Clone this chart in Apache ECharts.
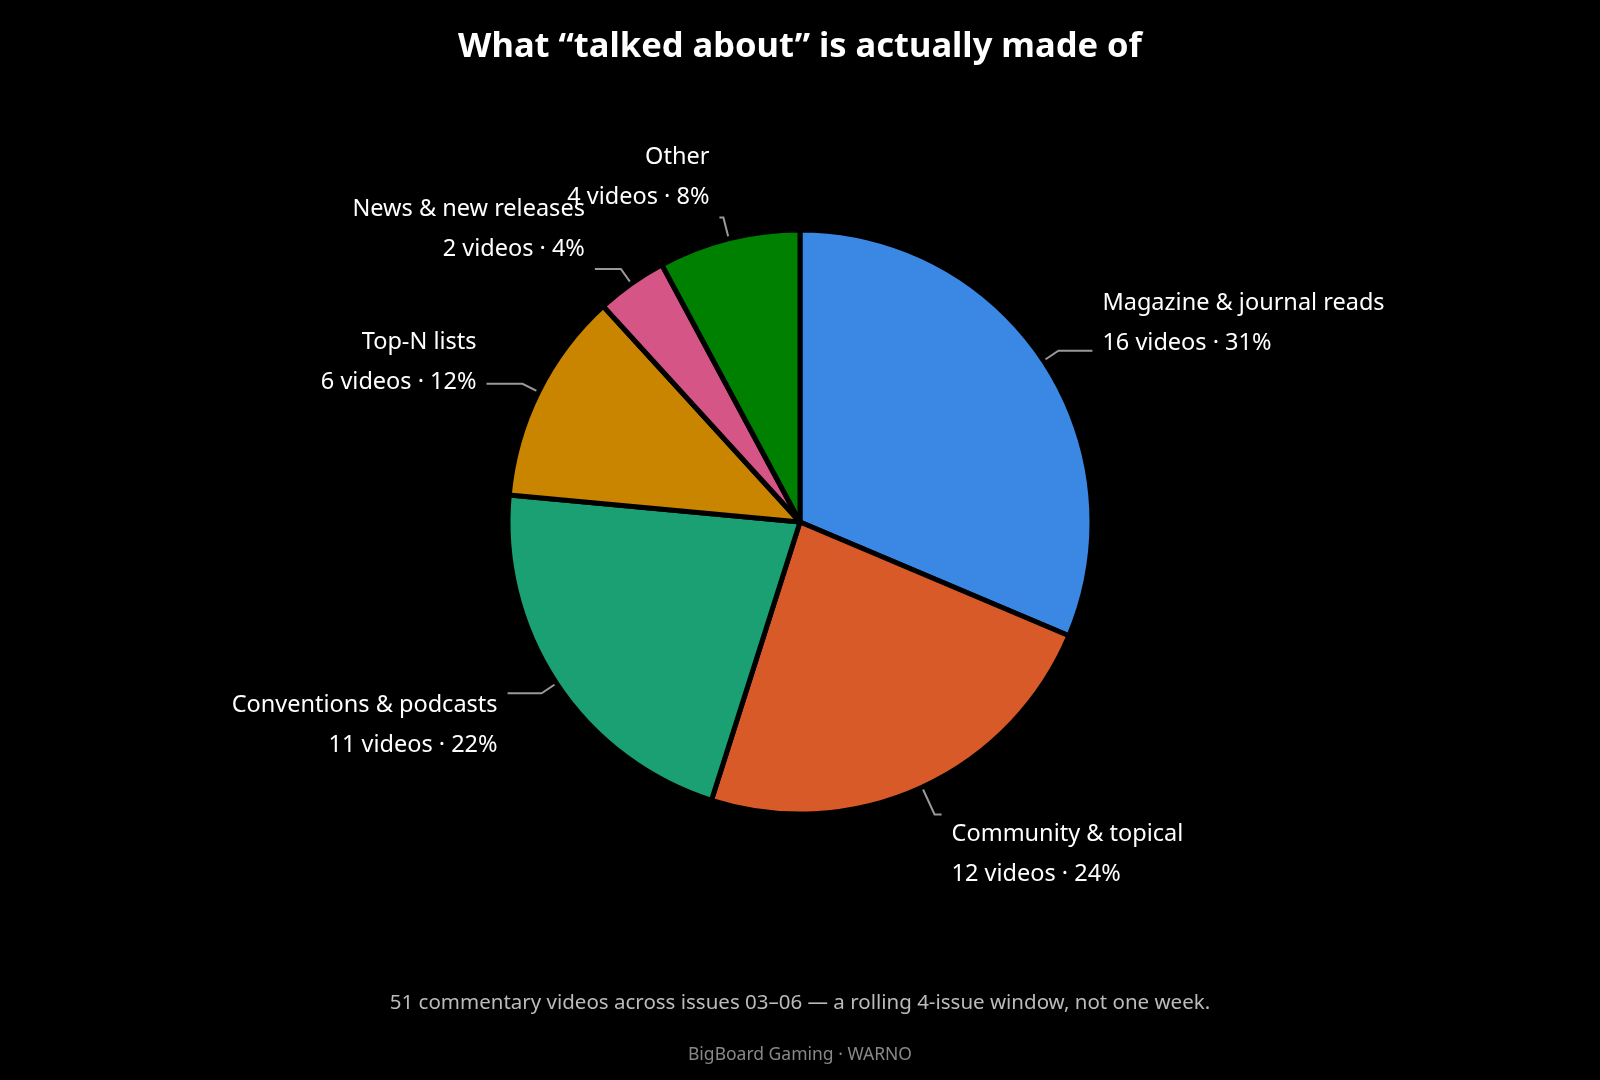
<!DOCTYPE html>
<html>
<head>
<meta charset="utf-8">
<title>What “talked about” is actually made of</title>
<script src="https://cdn.jsdelivr.net/npm/echarts@6/dist/echarts.min.js"></script>
<style>
    html, body {margin: 0; padding: 0; background: #000;}
    #chart {width: 1600px; height: 1080px;}
</style>
</head>
<body>
<div id="chart"></div>
<script>
var categories = [
    'Magazine & journal reads',
    'Community & topical',
    'Conventions & podcasts',
    'Top-N lists',
    'News & new releases',
    'Other'
];
var videoCounts = [16, 12, 11, 6, 2, 4];
var sliceColors = ['#3a88e4', '#d95a29', '#1aa073', '#c98500', '#d55586', '#008000'];

var total = videoCounts.reduce(function(a, b) { return a + b; }, 0);
var fontFamily = '"Noto Sans", "Open Sans", sans-serif';

// a few leader lines / labels sit a little differently in the original
var lineTweaks = {
    'Magazine & journal reads': {length: 18, length2: 34},
    'Community & topical': {length: 30, length2: 7},
    'Conventions & podcasts': {length: 18, length2: 34},
    'Top-N lists': {length: 18, length2: 36},
    'Other': {length: 22, length2: 4}
};
var labelNudge = {
    'Magazine & journal reads': 13,
    'Conventions & podcasts': -8,
    'Top-N lists': 18
};

var pieData = [];
for (var i = 0; i < categories.length; i++) {
    var item = {name: categories[i], value: videoCounts[i], itemStyle: {color: sliceColors[i]}};
    if (lineTweaks[categories[i]]) {
        item.labelLine = lineTweaks[categories[i]];
    }
    pieData.push(item);
}

var myChart = echarts.init(document.getElementById('chart'));

myChart.setOption({
    backgroundColor: '#000',
    animation: false,
    title: [
        {
            text: 'What “talked about” is actually made of',
            left: 'center',
            top: 25,
            textStyle: {color: '#fff', fontSize: 34.5, fontWeight: 'bold', fontFamily: fontFamily}
        },
        {
            text: '51 commentary videos across issues 03–06 — a rolling 4-issue window, not one week.',
            left: 'center',
            top: 988,
            textStyle: {color: '#bbbbbb', fontSize: 20.5, fontWeight: 'normal', fontFamily: fontFamily}
        },
        {
            text: 'BigBoard Gaming · WARNO',
            left: 'center',
            top: 1041,
            textStyle: {color: '#888888', fontSize: 17.5, fontWeight: 'normal', fontFamily: fontFamily}
        }
    ],
    series: [{
        type: 'pie',
        center: ['50%', 522],
        radius: 292,
        startAngle: 90,
        clockwise: true,
        avoidLabelOverlap: false,
        data: pieData,
        itemStyle: {borderColor: '#000', borderWidth: 5},
        label: {
            show: true,
            position: 'outside',
            color: '#fff',
            fontSize: 23.5,
            lineHeight: 40,
            distanceToLabelLine: 10,
            fontFamily: fontFamily,
            formatter: function(p) {
                var pct = Math.round(p.value / total * 100);
                return p.name + '\n' + p.value + ' videos · ' + pct + '%';
            }
        },
        labelLine: {
            show: true,
            length: 18,
            length2: 26,
            smooth: false,
            lineStyle: {color: '#999', width: 2}
        },
        // text sits above the line end on the top half, below it on the bottom half
        labelLayout: function(params) {
            var pts = params.labelLinePoints;
            if (!pts) return {};
            var up = pts[1][1] < pts[0][1];
            var res = {verticalAlign: up ? 'bottom' : 'top'};
            var nudge = labelNudge[categories[params.dataIndex]];
            if (nudge) res.dy = nudge;
            return res;
        },
        emphasis: {disabled: true}
    }]
});
window.onresize = myChart.resize;
</script>
</body>
</html>
